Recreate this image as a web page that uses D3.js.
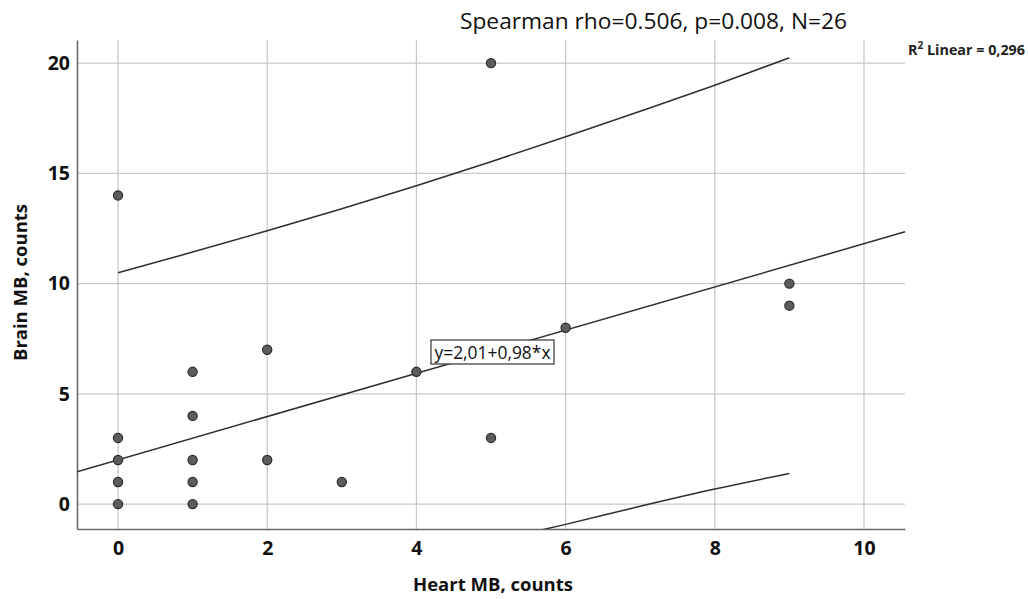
<!DOCTYPE html>
<html>
<head>
<meta charset="utf-8">
<script src="https://cdn.jsdelivr.net/npm/d3@7"></script>
<style>
  html, body { margin: 0; padding: 0; background: #fff; }
  svg { display: block; }
</style>
</head>
<body>
<svg id="chart" width="1028" height="599"></svg>
<script>
// ---- Data ----
const heartMB = [0, 0, 0, 0, 0, 1, 1, 1, 1, 1, 2, 2, 3, 4, 5, 5, 6, 9, 9];
const brainMB = [0, 1, 2, 3, 14, 0, 1, 2, 4, 6, 2, 7, 1, 6, 3, 20, 8, 9, 10];
const xTicks = [0, 2, 4, 6, 8, 10];
const yTicks = [0, 5, 10, 15, 20];
const fitIntercept = 2.01;
const fitSlope = 0.98;
// prediction-interval curves
const upperX = [0, 1, 2, 3, 4, 5, 6, 7, 8, 9];
const upperY = [10.49, 11.43, 12.40, 13.40, 14.44, 15.53, 16.66, 17.82, 19.0, 20.24];
const lowerX = [5, 6, 7, 8, 9];
const lowerY = [-1.70, -0.92, -0.10, 0.68, 1.39];
const titleText = "Spearman rho=0.506, p=0.008, N=26";
const r2Text = "Linear = 0,296";
const eqText = "y=2,01+0,98*x";
const xLabel = "Heart MB, counts";
const yLabel = "Brain MB, counts";

(function () {
// ---- Layout ----
const svg = d3.select("#chart");
const pL = 77, pR = 905, pT = 40, pB = 529;
const x = d3.scaleLinear().domain([-0.55, 10.55]).range([pL, pR]);
const y = d3.scaleLinear().domain([-1.13, 21.05]).range([pB, pT]);

const gridColor = "#c9c9c9";
const lineColor = "#2e2e2e";
const font = "'Open Sans', 'Noto Sans', sans-serif";

// grid lines
svg.append("g").selectAll("line").data(xTicks).join("line")
  .attr("x1", d => x(d)).attr("x2", d => x(d))
  .attr("y1", pT).attr("y2", pB)
  .attr("stroke", gridColor).attr("stroke-width", 1.3);
svg.append("g").selectAll("line").data(yTicks).join("line")
  .attr("x1", pL).attr("x2", pR)
  .attr("y1", d => y(d)).attr("y2", d => y(d))
  .attr("stroke", gridColor).attr("stroke-width", 1.3);

// axes
const xAxis = svg.append("g").attr("transform", `translate(0,${pB})`)
  .call(d3.axisBottom(x).tickValues(xTicks).tickSize(0).tickSizeOuter(0).tickPadding(12));
const yAxis = svg.append("g").attr("transform", `translate(${pL},0)`)
  .call(d3.axisLeft(y).tickValues(yTicks).tickSize(0).tickSizeOuter(0).tickPadding(7));
[xAxis, yAxis].forEach(g => {
  g.select(".domain").attr("stroke", "#6a6a6a").attr("stroke-width", 1.6);
  g.selectAll("text").attr("font-family", font).attr("font-weight", "bold")
    .attr("font-size", 19.5).attr("fill", "#111");
});

// clip for fit lines
svg.append("clipPath").attr("id", "plotclip").append("rect")
  .attr("x", pL).attr("y", pT - 20).attr("width", pR - pL + 6).attr("height", pB - pT + 20);

const lineGen = d3.line().x(d => x(d[0])).y(d => y(d[1])).curve(d3.curveMonotoneX);
const fitPts = x.domain().map(v => [v, fitIntercept + fitSlope * v]);
const gLines = svg.append("g").attr("clip-path", "url(#plotclip)");
gLines.append("path").datum(fitPts).attr("d", d3.line().x(d => x(d[0])).y(d => y(d[1])))
  .attr("fill", "none").attr("stroke", lineColor).attr("stroke-width", 1.5);
gLines.append("path").datum(upperX.map((v, i) => [v, upperY[i]])).attr("d", lineGen)
  .attr("fill", "none").attr("stroke", lineColor).attr("stroke-width", 1.5);
gLines.append("path").datum(lowerX.map((v, i) => [v, lowerY[i]])).attr("d", lineGen)
  .attr("fill", "none").attr("stroke", lineColor).attr("stroke-width", 1.5);

// equation box
const eqG = svg.append("g");
eqG.append("rect").attr("x", 431).attr("y", 340).attr("width", 123).attr("height", 24)
  .attr("fill", "#fff").attr("stroke", "#333").attr("stroke-width", 1.2);
eqG.append("text").attr("x", 492.5).attr("y", 358.5).attr("text-anchor", "middle")
  .attr("font-family", font).attr("font-size", 18).attr("fill", "#111")
  .attr("textLength", 116).attr("lengthAdjust", "spacingAndGlyphs")
  .text(eqText);

// points
svg.append("g").selectAll("circle").data(heartMB.map((v, i) => [v, brainMB[i]])).join("circle")
  .attr("cx", d => x(d[0])).attr("cy", d => y(d[1])).attr("r", 4.6)
  .attr("fill", "#5c5c5c").attr("stroke", "#2a2a2a").attr("stroke-width", 1.2);

// title
svg.append("text").attr("x", 653.5).attr("y", 29).attr("text-anchor", "middle")
  .attr("font-family", font).attr("font-size", 22).attr("fill", "#111")
  .attr("textLength", 387).attr("lengthAdjust", "spacingAndGlyphs")
  .text(titleText);

// R2 label
const r2 = svg.append("text").attr("x", 908).attr("y", 55)
  .attr("font-family", font).attr("font-size", 14).attr("font-weight", "bold").attr("fill", "#222")
  .attr("textLength", 117).attr("lengthAdjust", "spacingAndGlyphs");
r2.append("tspan").text("R");
r2.append("tspan").attr("font-size", 10).attr("dy", -6).text("2");
r2.append("tspan").attr("dy", 6).text(" " + r2Text);

// axis titles
svg.append("text").attr("x", (pL + pR) / 2 + 2).attr("y", 591).attr("text-anchor", "middle")
  .attr("font-family", font).attr("font-size", 18.5).attr("font-weight", "bold").attr("fill", "#111")
  .text(xLabel);
svg.append("text").attr("transform", `translate(27,${(pT + pB) / 2 - 2}) rotate(-90)`)
  .attr("text-anchor", "middle")
  .attr("font-family", font).attr("font-size", 18.5).attr("font-weight", "bold").attr("fill", "#111")
  .text(yLabel);
})();
</script>
</body>
</html>
